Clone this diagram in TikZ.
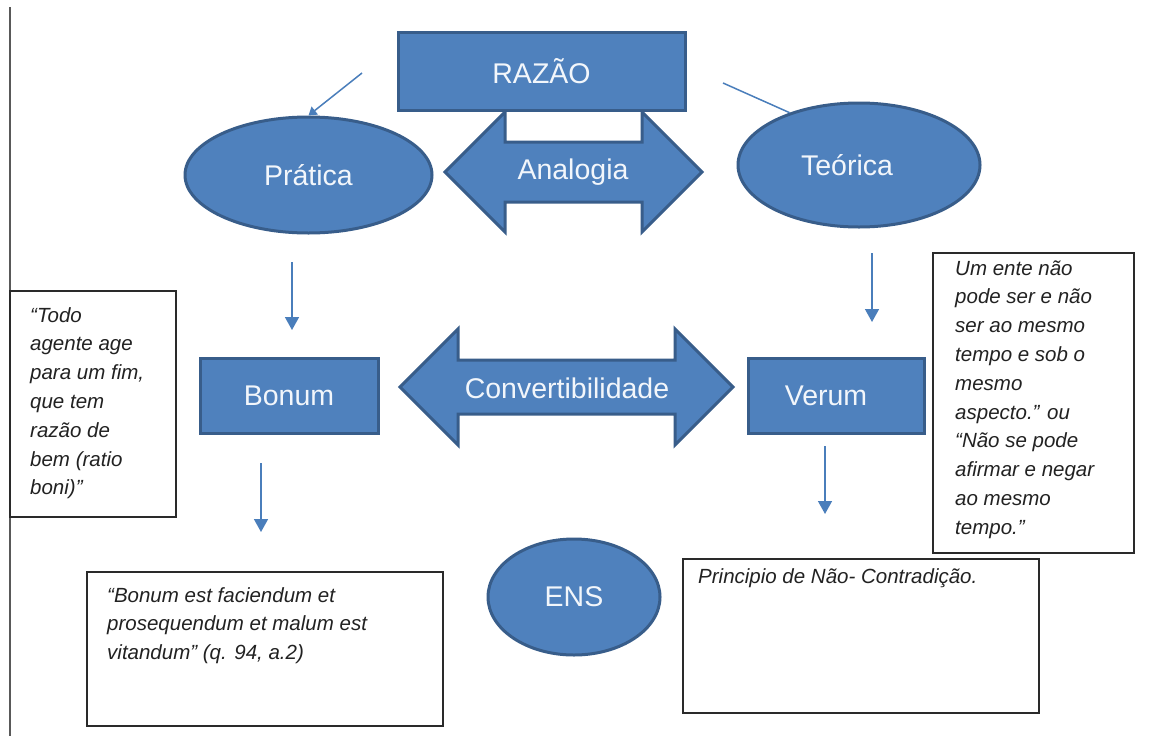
\documentclass[tikz,border=0pt]{standalone}
\usepackage{fontspec}
\setmainfont{Liberation Sans}
\usetikzlibrary{arrows.meta,shapes.geometric}
\definecolor{bfill}{HTML}{4F81BD}
\definecolor{bline}{HTML}{385D8A}
\definecolor{conncol}{HTML}{4A7EBB}
\definecolor{boxline}{HTML}{2A2A2A}
\definecolor{btext}{HTML}{F2F6FB}
\definecolor{qtext}{HTML}{222222}
\newcommand{\qfontcmd}{\itshape\fontsize{20.5}{28.8}\selectfont}
\begin{document}
\begin{tikzpicture}[x=1pt,y=-1pt,
  bluerect/.style={rectangle, fill=bfill, draw=bline, line width=3pt, inner sep=0pt,
    text=btext, font=\fontsize{28.5}{34}\selectfont},
  blueell/.style={ellipse, fill=bfill, draw=bline, line width=3pt, inner sep=0pt,
    text=btext, font=\fontsize{28.5}{34}\selectfont},
  bigarrow/.style={fill=bfill, draw=bline, line width=3pt, line join=miter},
  arrowlabel/.style={inner sep=0pt, text=btext, font=\fontsize{28.5}{34}\selectfont},
  quotebox/.style={rectangle, draw=boxline, line width=2pt, inner sep=0pt},
  quotetext/.style={anchor=base west, inner sep=0pt, text=qtext},
  connline/.style={draw=conncol, line width=1.5pt},
  connarrow/.style={connline, -{Triangle[width=14pt,length=13pt]}}
]
\useasboundingbox (0,0) rectangle (1161,736);
\fill[white] (0,0) rectangle (1161,736);

% left margin rule
\coordinate (lt) at (10,7);
\coordinate (lb) at (10,736);
\draw[draw=black!65, line width=2pt] (lt) -- (lb);

% Analogia double arrow
\draw[bigarrow] (445,172) -- (505,112) -- (505,142) -- (642,142) -- (642,112) -- (702,172)
  -- (642,232) -- (642,202) -- (505,202) -- (505,232) -- cycle;
\node[arrowlabel] (ana) at (573,172) {Analogia};

% Convertibilidade double arrow
\draw[bigarrow] (400,387) -- (458,329) -- (458,360) -- (675,360) -- (675,329) -- (733,387)
  -- (675,445) -- (675,414) -- (458,414) -- (458,445) -- cycle;
\node[arrowlabel] (conv) at (567,388) {Convertibilidade};

% main nodes
\node[bluerect, minimum width=287pt, minimum height=78pt] (raz) at (541.5,71) {RAZÃO};
\node[blueell, minimum width=247pt, minimum height=116pt] (pra) at (308.5,175) {Prática};
\node[blueell, minimum width=242pt, minimum height=124pt] (teo) at (859,165) {\hspace*{-24pt}Teórica};
\node[bluerect, minimum width=178pt, minimum height=75pt] (bon) at (289,395.5) {Bonum};
\node[bluerect, minimum width=176pt, minimum height=75pt] (ver) at (836,395.5) {\hspace*{-20pt}Verum};
\node[blueell, minimum width=172pt, minimum height=116pt] (ens) at (574,597) {ENS};

% quote boxes
\node[quotebox, minimum width=166pt, minimum height=226pt] (qtodo) at (93,404) {};
\node[quotebox, minimum width=201pt, minimum height=300pt] (qum) at (1033.5,403) {};
\node[quotebox, minimum width=356pt, minimum height=154pt] (qbon) at (265,649) {};
\node[quotebox, minimum width=356pt, minimum height=154pt] (qpri) at (861,636) {};

\node[quotetext] (ttodo) at (30,322) {\parbox[t]{150pt}{\qfontcmd “Todo\\agente age\\para um fim,\\que tem\\razão de\\bem (ratio\\boni)”}};
\node[quotetext] (tum) at (955,275) {\parbox[t]{175pt}{\qfontcmd Um ente não\\pode ser e não\\ser ao mesmo\\tempo e sob o\\mesmo\\aspecto.” ou\\“Não se pode\\afirmar e negar\\ao mesmo\\tempo.”}};
\node[quotetext] (tbon) at (107,602) {\parbox[t]{330pt}{\qfontcmd “Bonum est faciendum et\\prosequendum et malum est\\vitandum” (q. 94, a.2)}};
\node[quotetext] (tpri) at (698,583) {\parbox[t]{330pt}{\qfontcmd Principio de Não- Contradição.}};

% connectors
\coordinate (rp) at (362,73);
\draw[connline, -{Triangle[width=10pt,length=8pt]}] (rp) -- (pra.north);
\coordinate (rt) at (723,83);
\draw[connline] (rt) -- (teo.143);

\coordinate (pbs) at (292,262);
\coordinate (pbe) at (292,330);
\draw[connarrow] (pbs) -- (pbe);
\coordinate (tvs) at (872,253);
\coordinate (tve) at (872,322);
\draw[connarrow] (tvs) -- (tve);
\coordinate (bqs) at (261,463);
\coordinate (bqe) at (261,532);
\draw[connarrow] (bqs) -- (bqe);
\coordinate (vqs) at (825,446);
\coordinate (vqe) at (825,514);
\draw[connarrow] (vqs) -- (vqe);
\end{tikzpicture}
\end{document}
